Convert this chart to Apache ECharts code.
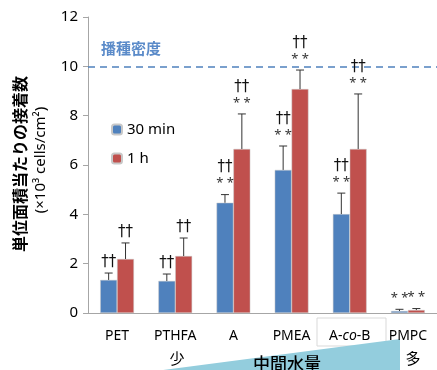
<!DOCTYPE html>
<html><head><meta charset="utf-8">
<script src="https://cdn.jsdelivr.net/npm/echarts@6/dist/echarts.min.js"></script>
<style>html,body{margin:0;padding:0;background:#fff}#c{width:437px;height:370px}</style>
</head><body><div id="c"></div>
<script>
var categories = ['PET', 'PTHFA', 'A', 'PMEA', 'A-co-B', 'PMPC'];
var seriesNames = ['30 min', '1 h'];
var min30 = [1.34, 1.30, 4.47, 5.80, 4.01, 0.08];
var hour1 = [2.19, 2.31, 6.65, 9.08, 6.65, 0.12];
var min30Err = [1.62, 1.58, 4.80, 6.77, 4.86, 0.15];
var hour1Err = [2.84, 3.04, 8.07, 9.85, 8.88, 0.18];
var min30Marks = ['††', '††', '††\n**', '††\n**', '††\n**', '**'];
var hour1Marks = ['††', '††', '††\n**', '††\n**', '††\n**', '**'];
var yTicks = [0, 2, 4, 6, 8, 10, 12];
var seedingDensity = 10;

var FONT = '"Noto Sans", "Noto Sans CJK JP", sans-serif';
var JP = '"Noto Sans CJK JP", sans-serif';
var BLUE = '#4F81BD', RED = '#C0504D';

function markRich(s) {
  return s.split('\n').map(function (line) {
    return line === '**' ? '{a|* *}' : '{d|' + line + '}';
  }).join('\n');
}

function errSeries(vals, errs, marks, side) {
  var data = vals.map(function (v, i) { return [i, v, errs[i], marks[i]]; });
  return {
    type: 'custom', z: 5,
    data: data,
    renderItem: function (params, api) {
      var i = api.value(0);
      var band = api.size([1, 0])[0];
      var bw = band * 0.29;
      var base = api.coord([i, api.value(1)]);
      var top = api.coord([i, api.value(2)]);
      var x = base[0] + side * bw / 2;
      var cap = 4;
      var lbl = markRich(data[params.dataIndex][3]);
      return {
        type: 'group',
        children: [
          { type: 'line', shape: { x1: x, y1: base[1], x2: x, y2: top[1] }, style: { stroke: '#333', lineWidth: 1 } },
          { type: 'line', shape: { x1: x - cap, y1: top[1], x2: x + cap, y2: top[1] }, style: { stroke: '#333', lineWidth: 1 } },
          { type: 'text', style: { text: lbl, x: x, y: top[1] - 3, align: 'center', verticalAlign: 'bottom',
              rich: {
                d: { fontSize: 15, fontFamily: '"DejaVu Sans", sans-serif', lineHeight: 16, fill: '#111', align: 'center' },
                a: { fontSize: 13, fontFamily: FONT, lineHeight: 16, fill: '#333', align: 'center' }
              } } }
        ]
      };
    }
  };
}

var chart = echarts.init(document.getElementById('c'));
chart.setOption({
  animation: false,
  grid: { left: 88, top: 17, width: 353, height: 296, containLabel: false },
  legend: {
    orient: 'vertical', left: 106, top: 117, itemWidth: 10, itemHeight: 10, itemGap: 14,
    textStyle: { fontSize: 15, fontFamily: FONT, color: '#000' },
    data: seriesNames
  },
  xAxis: {
    type: 'category', data: categories,
    axisLine: { lineStyle: { color: '#A6A6A6' } },
    axisTick: { show: false },
    axisLabel: {
      interval: 0, margin: 16, fontSize: 14, fontFamily: FONT, color: '#000',
      formatter: function (v) { return v === 'A-co-B' ? '{n|A-}{i|co}{n|-B}' : v; },
      rich: { n: { fontSize: 14, fontFamily: FONT, color: '#000' }, i: { fontSize: 14, fontFamily: FONT, fontStyle: 'italic', color: '#000' } }
    }
  },
  yAxis: {
    type: 'value', min: yTicks[0], max: yTicks[yTicks.length - 1], interval: 2,
    axisLine: { show: true, lineStyle: { color: '#A6A6A6' } },
    axisTick: { show: true, length: 5, lineStyle: { color: '#A6A6A6' } },
    splitLine: { show: false },
    axisLabel: { margin: 10, fontSize: 15, fontFamily: FONT, color: '#000' }
  },
  series: [
    {
      name: seriesNames[0], type: 'bar', data: min30, barGap: '0%', barCategoryGap: '42%',
      itemStyle: { color: BLUE, borderColor: '#c8c8c8', borderWidth: 0.5 },
      markLine: {
        silent: true, symbol: ['none', 'none'], label: { show: false },
        lineStyle: { color: '#4F81BD', type: [7, 5], width: 1.5 },
        data: [{ yAxis: seedingDensity }]
      }
    },
    {
      name: seriesNames[1], type: 'bar', data: hour1,
      itemStyle: { color: RED, borderColor: '#c8c8c8', borderWidth: 0.5 }
    },
    errSeries(min30, min30Err, min30Marks, -1),
    errSeries(hour1, hour1Err, hour1Marks, 1)
  ],
  graphic: [
    { type: 'text', left: 101, top: 41, style: { text: '播種密度', font: 'bold 15px ' + JP, fill: '#5B8BC9' } },
    { type: 'text', x: 20, y: 164, rotation: Math.PI / 2, style: { text: '単位面積当たりの接着数', font: 'bold 16px ' + JP, fill: '#000', align: 'center', verticalAlign: 'middle' } },
    { type: 'text', x: 41, y: 160, rotation: Math.PI / 2, style: { text: '(×10³ cells/cm²)', font: '15px ' + FONT, fill: '#000', align: 'center', verticalAlign: 'middle' } },
    { type: 'rect', shape: { x: 317, y: 318, width: 69, height: 28 }, style: { fill: 'none', stroke: '#D9D9D9', lineWidth: 1 }, z: -1 },
    { type: 'polygon', shape: { points: [[148, 372], [400, 339], [400, 372]] }, style: { fill: '#93CDDD' } },
    { type: 'text', x: 177, y: 358, style: { text: '少', font: '15px ' + JP, fill: '#000', align: 'center', verticalAlign: 'middle' } },
    { type: 'text', x: 287, y: 364, style: { text: '中間水量', font: '500 17px ' + JP, fill: '#000', align: 'center', verticalAlign: 'middle' } },
    { type: 'text', x: 413, y: 358, style: { text: '多', font: '15px ' + JP, fill: '#000', align: 'center', verticalAlign: 'middle' } }
  ]
});
</script></body></html>
